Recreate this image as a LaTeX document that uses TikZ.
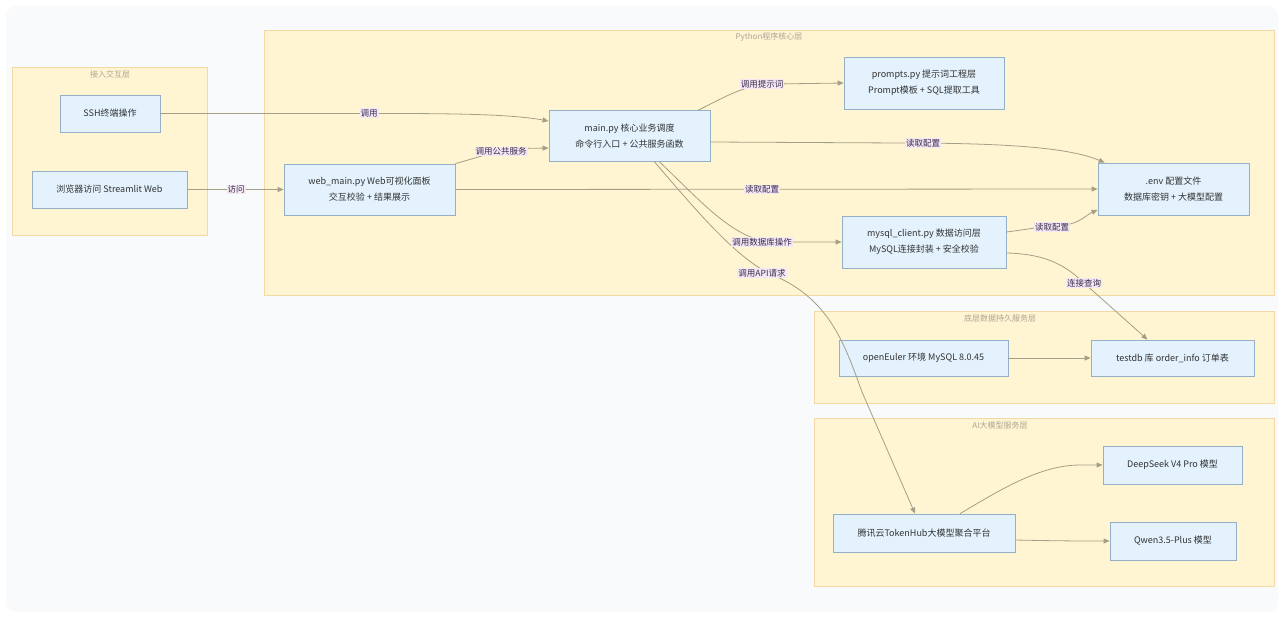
\documentclass[tikz,border=0pt]{standalone}
\usepackage{fontspec}
\setmainfont{Noto Sans CJK SC}
\usetikzlibrary{arrows.meta}
\definecolor{bgc}{HTML}{F8FAFC}
\definecolor{clfill}{HTML}{FFF5D2}
\definecolor{cldraw}{HTML}{F3D9A4}
\definecolor{nfill}{HTML}{E3F2FD}
\definecolor{ndraw}{HTML}{94AFC6}
\definecolor{edgec}{HTML}{A39F88}
\definecolor{lblfill}{HTML}{F3E8F3}
\definecolor{lbltext}{HTML}{3B2C4E}
\definecolor{titlec}{HTML}{ACA595}
\definecolor{ntext}{HTML}{333333}
\tikzset{
  cluster/.style={draw=cldraw, fill=clfill, line width=0.8pt},
  ctitle/.style={text=titlec, font=\fontsize{8}{10}\selectfont, inner sep=0pt},
  box/.style={draw=ndraw, fill=nfill, line width=0.8pt, text=ntext, align=center,
    font=\fontsize{9}{16}\selectfont, inner sep=0pt},
  edge/.style={draw=edgec, line width=0.8pt, -{Triangle[length=6pt,width=5pt]}},
  lbl/.style={fill=lblfill, text=lbltext, font=\fontsize{8.5}{10}\selectfont, inner sep=1pt}
}
\begin{document}
\begin{tikzpicture}[x=1pt,y=-1pt]
\useasboundingbox (0,0) rectangle (1284,618);
\fill[white] (0,0) rectangle (1284,618);
\fill[bgc, rounded corners=10pt] (6,6) rectangle (1278,612);

% clusters
\draw[cluster] (12,67) rectangle (207,235);
\node[ctitle] (t1) at (110,74) {接入交互层};
\draw[cluster] (264,30) rectangle (1274,295);
\node[ctitle] (t2) at (769,37) {Python程序核心层};
\draw[cluster] (814,311) rectangle (1274,403);
\node[ctitle] (t3) at (1000,318) {底层数据持久服务层};
\draw[cluster] (814,418) rectangle (1274,586);
\node[ctitle] (t4) at (1000,425) {AI大模型服务层};

% nodes
\node[box, minimum width=100pt, minimum height=37pt] (ssh) at (110,113.5) {SSH终端操作};
\node[box, minimum width=155pt, minimum height=37pt] (browser) at (109.5,189.5) {浏览器访问 Streamlit Web};
\node[box, minimum width=171pt, minimum height=51pt] (web) at (369.5,189.5) {web\_main.py Web可视化面板\\交互校验 + 结果展示};
\node[box, minimum width=161pt, minimum height=51pt] (main) at (629.5,136) {main.py 核心业务调度\\命令行入口 + 公共服务函数};
\node[box, minimum width=160pt, minimum height=52pt] (prompts) at (924,83) {prompts.py 提示词工程层\\Prompt模板 + SQL提取工具};
\node[box, minimum width=151pt, minimum height=52pt] (env) at (1173.5,189) {.env 配置文件\\数据库密钥 + 大模型配置};
\node[box, minimum width=164pt, minimum height=52pt] (mysql) at (924,242) {mysql\_client.py 数据访问层\\MySQL连接封装 + 安全校验};
\node[box, minimum width=169pt, minimum height=36pt] (euler) at (923.5,358) {openEuler 环境 MySQL 8.0.45};
\node[box, minimum width=163pt, minimum height=36pt] (testdb) at (1172.5,358) {testdb 库 order\_info 订单表};
\node[box, minimum width=182pt, minimum height=38pt] (tencent) at (924,533) {腾讯云TokenHub大模型聚合平台};
\node[box, minimum width=139pt, minimum height=38pt] (deepseek) at (1172.5,465) {DeepSeek V4 Pro 模型};
\node[box, minimum width=126pt, minimum height=38pt] (qwen) at (1173,541) {Qwen3.5-Plus 模型};

% edges
\draw[edge] (ssh.east) -- (390,113.5) .. controls (470,113.5) and (515,115) .. ([yshift=15pt]main.west);
\draw[edge] (browser.east) -- (web.west);
\draw[edge] (web.north east) .. controls (480,157) and (500,149) .. (520,148.5) -- ([yshift=-12pt]main.west);
\draw[edge] (web.east) -- (env.west);
\draw[edge] ([xshift=-12pt]main.north east) .. controls (725,97) and (745,84) .. (775,84) -- (prompts.west);
\draw[edge] ([yshift=-6pt]main.east) -- (900,143) .. controls (1010,143) and (1070,148) .. ([xshift=7pt]env.north west);
\draw[edge] ([xshift=30pt]main.south) .. controls (700,200) and (735,242) .. (775,242) -- (mysql.west);
\draw[edge] ([xshift=25pt]main.south) .. controls (700,215) and (740,262) .. (775,276) .. controls (830,300) and (845,345) .. (862,392) -- ([xshift=-9pt]tencent.north);
\draw[edge] ([yshift=10pt]mysql.east) .. controls (1030,229) and (1045,226) .. (1070,224) .. controls (1080,222) and (1088,214) .. ([yshift=-21pt]env.west);
\draw[edge] ([yshift=-11pt]mysql.east) .. controls (1050,254) and (1068,268) .. (1084,283) -- ([xshift=-25pt]testdb.north);
\draw[edge] (euler.east) -- (testdb.west);
\draw[edge] ([xshift=36pt]tencent.north) .. controls (1000,490) and (1040,465) .. (1080,465) -- (deepseek.west);
\draw[edge] ([yshift=-7pt]tencent.east) .. controls (1060,541) and (1080,541) .. (qwen.west);

% labels
\node[lbl] (l1) at (369,113) {调用};
\node[lbl] (l2) at (236,189.5) {访问};
\node[lbl] (l3) at (501,151.5) {调用公共服务};
\node[lbl] (l4) at (762,189.5) {读取配置};
\node[lbl] (l5) at (762,84) {调用提示词};
\node[lbl] (l6) at (923,143) {读取配置};
\node[lbl] (l7) at (762,242) {调用数据库操作};
\node[lbl] (l8) at (762,273) {调用API请求};
\node[lbl] (l9) at (1052,227) {读取配置};
\node[lbl] (l10) at (1084,283) {连接查询};
\end{tikzpicture}
\end{document}
